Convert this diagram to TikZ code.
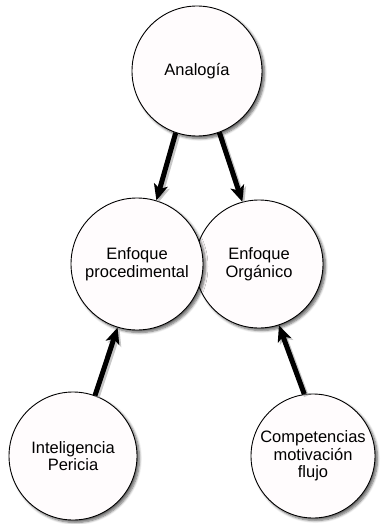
\documentclass[tikz,border=0pt]{standalone}
\usepackage{fontspec}
\setmainfont{Liberation Sans}
\usetikzlibrary{shadows.blur,arrows.meta}
\definecolor{bubblefill}{HTML}{FFFCFD}
\tikzset{
  bubble/.style={circle, draw=black, line width=0.9pt, fill=bubblefill,
    inner sep=0pt, align=center, font=\fontsize{16.5}{17.5}\selectfont,
    blur shadow={shadow xshift=2.5pt, shadow yshift=-2.5pt,
      shadow blur steps=6, shadow blur radius=2.5pt, shadow opacity=60}},
  link/.style={line width=5pt, -{Stealth[length=16pt,width=14pt,inset=4pt]}},
  linkshadow/.style={link, draw=black!40, opacity=0.55,
    transform canvas={xshift=2pt,yshift=-2pt}},
}
\begin{document}
\begin{tikzpicture}[x=1pt,y=-1pt]
\useasboundingbox (0,0) rectangle (380,524);
% concept circles
\node[bubble, minimum size=130pt] (ana)  at (197,71)  {Analogía};
\node[bubble, minimum size=128pt] (org)  at (259,264) {Enfoque\\Orgánico};
\node[bubble, minimum size=132pt] (proc) at (137,264) {Enfoque\\procedimental};
\node[bubble, minimum size=128pt] (int)  at (73,456)  {Inteligencia\\Pericia};
\node[bubble, minimum size=124pt] (comp) at (313,456) {Competencias\\motivación\\flujo};
% connectors: soft shadow first, then the arrow itself
\foreach \a/\b in {ana.251/proc.73, ana.290/org.105, int.70/proc.253, comp.98/org.288}{
  \draw[linkshadow] (\a) -- (\b);
  \draw[link] (\a) -- (\b);
}
\end{tikzpicture}
\end{document}
